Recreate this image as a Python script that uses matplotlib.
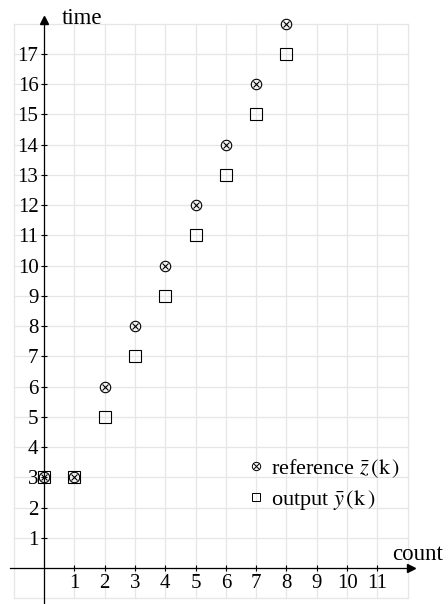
import numpy as np
import matplotlib
matplotlib.use('Agg')
import matplotlib.pyplot as plt
from matplotlib.legend_handler import HandlerTuple
from matplotlib.lines import Line2D

# --- data ---
k = [0, 1, 2, 3, 4, 5, 6, 7, 8]
reference_z = [3, 3, 6, 8, 10, 12, 14, 16, 18]
output_y = [3, 3, 5, 7, 9, 11, 13, 15, 17]
x_ticks = list(range(1, 12))
y_ticks = list(range(1, 18))

plt.rcParams['font.family'] = ['Liberation Serif', 'DejaVu Serif']
plt.rcParams['mathtext.fontset'] = 'stix'

fig = plt.figure(figsize=(4.48, 6.04), dpi=100)
ax = fig.add_axes([0, 0, 1, 1])
ax.set_xlim(-1.452, 13.33)
ax.set_ylim(-1.19, 18.78)

# grid (integer lines, limited area)
for gx in range(-1, 13):
    ax.plot([gx, gx], [-1, 18], color='#e6e6e6', lw=0.9, zorder=0)
for gy in range(-1, 19):
    ax.plot([-1, 12], [gy, gy], color='#e6e6e6', lw=0.9, zorder=0)

# axes through origin
for s in ['top', 'right']:
    ax.spines[s].set_visible(False)
ax.spines['left'].set_position(('data', 0))
ax.spines['bottom'].set_position(('data', 0))
ax.spines['left'].set_bounds(-1.19, 18.0)
ax.spines['bottom'].set_bounds(-1.12, 12.0)
ax.spines['left'].set_linewidth(0.9)
ax.spines['bottom'].set_linewidth(0.9)
ax.plot(12.1, 0, marker='>', color='black', ms=6, clip_on=False)
ax.plot(0, 18.12, marker='^', color='black', ms=6, clip_on=False)

ax.set_xticks(x_ticks)
ax.set_yticks(y_ticks)
ax.tick_params(direction='inout', length=4, width=0.8, labelsize=15, pad=2)

ax.text(0.59, 17.97, 'time', fontsize=16.5, ha='left', va='baseline')
ax.text(11.49, 0.26, 'count', fontsize=16.5, ha='left', va='baseline')

# markers
ax.plot(k, reference_z, 'o', mfc='none', mec='black', ms=7.5, mew=0.8, zorder=3)
ax.plot(k, reference_z, 'x', color='black', ms=5, mew=0.8, zorder=3)
ax.plot(k, output_y, 's', mfc='none', mec='black', ms=8, mew=0.8, zorder=3)

h_circ = Line2D([], [], marker='o', ls='none', mfc='none', mec='black', ms=6, mew=0.7)
h_x = Line2D([], [], marker='x', ls='none', color='black', ms=4, mew=0.7)
h_sq = Line2D([], [], marker='s', ls='none', mfc='none', mec='black', ms=6, mew=0.7)
ax.legend([(h_circ, h_x), h_sq],
          [r'reference $\bar{z}\,(\mathrm{k}\,)$', r'output $\bar{y}\,(\mathrm{k}\,)$'],
          handler_map={tuple: HandlerTuple(ndivide=1, pad=0)},
          frameon=False, fontsize=16, handlelength=0.6, handletextpad=0.4,
          labelspacing=0.35, borderpad=0, loc='upper left',
          bbox_to_anchor=(238 / 448, 1 - 446 / 604))

fig.savefig('out.png', dpi=100)
